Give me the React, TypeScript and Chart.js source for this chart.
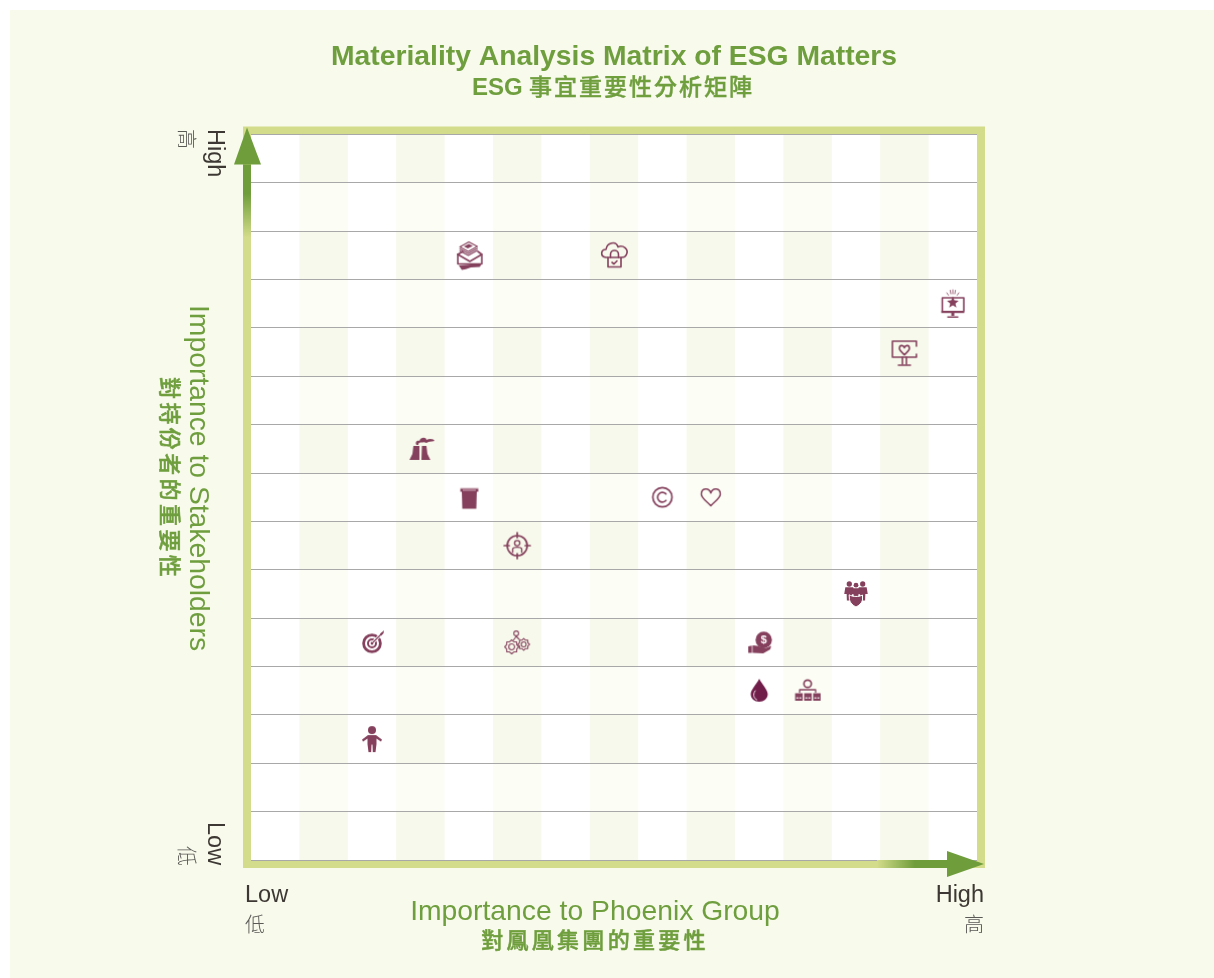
import React, { useEffect, useRef } from "react";
import { Chart, registerables } from "chart.js";

Chart.register(...registerables);

const titleText = "Materiality Analysis Matrix of ESG Matters";
const subtitleEn = "ESG";
const subtitleZh = "事宜重要性分析矩陣";
const xTitleEn = "Importance to Phoenix Group";
const xTitleZh = "對鳳凰集團的重要性";
const yTitleEn = "Importance to Stakeholders";
const yTitleZh = "對持份者的重要性";
const lowEn = "Low";
const lowZh = "低";
const highEn = "High";
const highZh = "高";

const matterIcons = ["mailBooks", "cloudLock", "starMonitor", "heartMonitor", "factory", "bin", "targetPerson", "copyright", "heart", "family", "dart", "gears", "coinHand", "drop", "org", "person"];
const phoenixImportance = [4.5, 7.5, 14.5, 13.5, 3.5, 4.5, 5.5, 8.5, 9.5, 12.5, 2.5, 5.5, 10.5, 10.5, 11.5, 2.5];
const stakeholderImportance = [12.5, 12.5, 11.5, 10.5, 8.5, 7.5, 6.5, 7.5, 7.5, 5.5, 4.5, 4.5, 4.5, 3.5, 3.5, 2.5];

const ICON = "#84405c";
const GREEN = "#6f9d3b";
const TEXT_GREEN = "#6f9e3e";
const FRAME = "#d3dc8a";
const PANEL = "#f8faec";
const BAND_A = "#f7f9ec";
const BAND_B = "#fcfdf5";
const DARK = "#3d3833";
const GREY = "#5b5956";
const LATIN = "'Liberation Sans', sans-serif";
const CJK = "'Noto Sans CJK TC', sans-serif";

type C = CanvasRenderingContext2D;
const poly = (c: C, pts: number[][], close = true) => {
  c.beginPath();
  pts.forEach((p, i) => (i ? c.lineTo(p[0], p[1]) : c.moveTo(p[0], p[1])));
  if (close) c.closePath();
};
const circ = (c: C, x: number, y: number, r: number) => {
  c.beginPath();
  c.arc(x, y, r, 0, Math.PI * 2);
};
const heartPath = (c: C, x: number, y: number, w: number, h: number) => {
  c.beginPath();
  c.moveTo(x, y + h * 0.5);
  c.bezierCurveTo(x - w * 0.2, y + h * 0.25, x - w * 0.5, y + h * 0.05, x - w * 0.5, y - h * 0.18);
  c.bezierCurveTo(x - w * 0.5, y - h * 0.55, x - w * 0.1, y - h * 0.6, x, y - h * 0.25);
  c.bezierCurveTo(x + w * 0.1, y - h * 0.6, x + w * 0.5, y - h * 0.55, x + w * 0.5, y - h * 0.18);
  c.bezierCurveTo(x + w * 0.5, y + h * 0.05, x + w * 0.2, y + h * 0.25, x, y + h * 0.5);
  c.closePath();
};
const gear = (c: C, x: number, y: number, r: number) => {
  c.beginPath();
  for (let i = 0; i < 16; i++) {
    const a = (i / 16) * Math.PI * 2;
    const R = i % 2 ? r * 0.78 : r;
    c.lineTo(x + Math.cos(a) * R, y + Math.sin(a) * R);
  }
  c.closePath();
  c.stroke();
  circ(c, x, y, r * 0.42);
  c.stroke();
};
const figure = (c: C, x: number, y: number, s: number) => {
  circ(c, x, y - 6 * s, 2.4 * s);
  c.fill();
  poly(c, [[x - 3.6 * s, y - 3 * s], [x + 3.6 * s, y - 3 * s], [x + 4.6 * s, y + 3 * s], [x + 2.4 * s, y + 3 * s], [x + 2.2 * s, y + 9 * s], [x - 2.2 * s, y + 9 * s], [x - 2.4 * s, y + 3 * s], [x - 4.6 * s, y + 3 * s]]);
  c.fill();
};

const drawers: Record<string, (c: C) => void> = {
  mailBooks(c) {
    poly(c, [[-11, -1], [-11, 8.5], [13, 8.5], [13, -1]], false);
    c.stroke();
    poly(c, [[-11, -1], [1, 6], [13, -1], [9, -4]], false);
    c.stroke();
    poly(c, [[-11, -1], [-6, -4]], false);
    c.stroke();
    c.lineWidth = 1.1;
    poly(c, [[-9, -8.5], [0, -13.5], [8.5, -9], [-0.5, -4]]);
    c.stroke();
    poly(c, [[-9, -6.5], [-0.5, -2], [8.5, -7]], false);
    c.stroke();
    poly(c, [[-9, -4.5], [-0.5, 0], [8.5, -5]], false);
    c.stroke();
    poly(c, [[-5, -9], [0, -11.5], [4, -9.5], [-1, -7]]);
    c.fill();
    poly(c, [[-10, 10], [-3, 9.5], [13, 8], [11, 11.5], [2, 12], [-3, 13.8], [-7, 14.5]]);
    c.fill();
  },
  cloudLock(c) {
    c.beginPath();
    c.moveTo(-6.5, 2);
    c.lineTo(-8, 2);
    c.bezierCurveTo(-14, 1.5, -13.5, -6, -8, -6);
    c.bezierCurveTo(-7, -13, 2, -15, 4, -8.5);
    c.bezierCurveTo(9, -11, 15, -6, 12.5, -1);
    c.bezierCurveTo(11.5, 1.5, 9.5, 2, 7.5, 2);
    c.stroke();
    poly(c, [[-6, 2], [7, 2], [7, 11.5], [-6, 11.5]]);
    c.stroke();
    c.beginPath();
    c.moveTo(-3.5, 2);
    c.lineTo(-3.5, -1);
    c.arc(0.5, -1, 4, Math.PI, 0);
    c.lineTo(4.5, 2);
    c.stroke();
    poly(c, [[-2, 7], [0, 8.5], [3, 5.5]], false);
    c.stroke();
  },
  starMonitor(c) {
    poly(c, [[-10.5, 7], [-10.5, -6], [11, -6], [11, 7]], false);
    c.stroke();
    c.fillRect(-11.5, 7, 23, 2.2);
    c.fillRect(-1.5, 9, 3, 3);
    c.fillRect(-5.5, 12.5, 11, 1.5);
    const star: number[][] = [];
    for (let i = 0; i < 10; i++) {
      const a = -Math.PI / 2 + (i * Math.PI) / 5;
      const r = i % 2 ? 2.7 : 6.2;
      star.push([Math.cos(a) * r, -1.2 + Math.sin(a) * r]);
    }
    poly(c, star);
    c.fill();
    c.lineWidth = 0.8;
    [[-6, -11, -4.4, -8.6], [-2.6, -13.5, -2, -10], [0, -14, 0, -10], [2.6, -13.5, 2, -10], [6, -11, 4.4, -8.6]].forEach((l) => {
      poly(c, [[l[0], l[1]], [l[2], l[3]]], false);
      c.stroke();
    });
  },
  heartMonitor(c) {
    c.beginPath();
    c.moveTo(12, 2);
    c.lineTo(12, 5);
    c.lineTo(-12, 5);
    c.lineTo(-12, -11);
    c.lineTo(12, -11);
    c.lineTo(12, -6);
    c.stroke();
    heartPath(c, 0, -2, 10, 9.5);
    c.stroke();
    poly(c, [[-2, 5], [-2, 12]], false);
    c.stroke();
    poly(c, [[2, 5], [2, 12]], false);
    c.stroke();
    poly(c, [[-6, 13], [6, 13]], false);
    c.stroke();
  },
  factory(c) {
    poly(c, [[-11, 11], [-8, 5], [-7, -3], [-1, -3], [-1, 11]]);
    c.fill();
    poly(c, [[1, 11], [1.5, -3], [6, -3], [7, 5], [10, 11]]);
    c.fill();
    c.beginPath();
    c.moveTo(-4, -4);
    c.bezierCurveTo(-6, -8, -2, -9, -1, -8);
    c.bezierCurveTo(0, -12, 6, -12, 6, -9);
    c.bezierCurveTo(9, -11, 14, -10, 14, -8);
    c.bezierCurveTo(11, -7, 9, -8, 6, -6);
    c.bezierCurveTo(3, -7.5, 2, -6, 0, -6.5);
    c.bezierCurveTo(-2, -6, -2, -5, -2, -4);
    c.closePath();
    c.fill();
  },
  bin(c) {
    poly(c, [[-7, -6], [8, -6], [7.5, 11.5], [-6.5, 11.5]]);
    c.fill();
    c.fillStyle = "#d8bcc6";
    c.fillRect(-8.5, -9.5, 18, 1);
    c.fillStyle = ICON;
    c.fillRect(-8.5, -8.5, 18, 3);
    c.fillStyle = "#c79bac";
    c.fillRect(-6, -7.6, 13, 1.2);
  },
  targetPerson(c) {
    circ(c, 0, 0, 10);
    c.lineWidth = 1.7;
    c.stroke();
    [[0, -13, 0, -8], [0, 8, 0, 13], [-13, 0, -8, 0], [8, 0, 13, 0]].forEach((l) => {
      poly(c, [[l[0], l[1]], [l[2], l[3]]], false);
      c.stroke();
    });
    c.lineWidth = 1.4;
    circ(c, 0, -2.5, 2.6);
    c.stroke();
    c.beginPath();
    c.moveTo(-4.5, 6.5);
    c.lineTo(-4.5, 3.5);
    c.bezierCurveTo(-4.5, 1, 4.5, 1, 4.5, 3.5);
    c.lineTo(4.5, 6.5);
    c.stroke();
  },
  copyright(c) {
    c.lineWidth = 1.7;
    circ(c, 0, 0, 9.6);
    c.stroke();
    c.beginPath();
    c.arc(0, 0, 4.8, 0.75, Math.PI * 2 - 0.75);
    c.stroke();
  },
  heart(c) {
    c.lineWidth = 1.5;
    heartPath(c, 0, 0, 19, 17);
    c.stroke();
  },
  family(c) {
    figure(c, -6.7, -3.4, 1.1);
    figure(c, 6.7, -3.4, 1.1);
    c.strokeStyle = "#fff";
    c.lineWidth = 1;
    figure(c, 0, -2.8, 1);
    c.beginPath();
    c.moveTo(-6.5, 1);
    c.bezierCurveTo(-3, 3, 3, 3, 6.5, 1);
    c.lineTo(6.5, 6);
    c.bezierCurveTo(6, 9, 3, 11.5, 0, 13);
    c.bezierCurveTo(-3, 11.5, -6, 9, -6.5, 6);
    c.closePath();
    c.fill();
    c.stroke();
  },
  dart(c) {
    c.lineWidth = 2.8;
    circ(c, 0, 1, 8.4);
    c.stroke();
    circ(c, 0, 1, 4);
    c.lineWidth = 2;
    c.stroke();
    circ(c, 0, 1, 1.4);
    c.fill();
    c.strokeStyle = "#fff";
    c.lineWidth = 3;
    poly(c, [[1.5, -0.5], [7, -6]], false);
    c.stroke();
    c.strokeStyle = ICON;
    c.lineWidth = 1.2;
    poly(c, [[0, 1], [10, -9]], false);
    c.stroke();
    poly(c, [[8, -8.5], [12, -12], [11.5, -9], [9, -6.5]]);
    c.fill();
  },
  gears(c) {
    c.lineWidth = 1.1;
    circ(c, -1, -9, 2.4);
    c.stroke();
    poly(c, [[-3.5, -2.5], [-1, -6], [2, -3]], false);
    c.stroke();
    gear(c, -5.5, 4.5, 7);
    gear(c, 6.5, 2, 5.8);
  },
  coinHand(c) {
    circ(c, 4.5, -2.5, 8.2);
    c.fill();
    c.fillStyle = "#fff";
    c.font = "bold 11px 'Liberation Sans'";
    c.textAlign = "center";
    c.textBaseline = "middle";
    c.fillText("$", 4.5, -2.2);
    c.fillStyle = ICON;
    poly(c, [[-11, 4], [-6, 3], [-2, 3.5], [3, 5], [7, 5.5], [12, 3.5], [11, 7], [4, 11], [-6, 10.5], [-11, 10.5]]);
    c.fill();
    c.strokeStyle = "#fff";
    c.lineWidth = 0.7;
    poly(c, [[-7, 3], [-7, 11]], false);
    c.stroke();
  },
  drop(c) {
    c.fillStyle = "#701d4a";
    c.beginPath();
    c.moveTo(0, -12);
    c.bezierCurveTo(3, -6, 8.5, -1, 8.5, 3.5);
    c.bezierCurveTo(8.5, 8, 4.5, 11, 0, 11);
    c.bezierCurveTo(-4.5, 11, -8.5, 8, -8.5, 3.5);
    c.bezierCurveTo(-8.5, -1, -3, -6, 0, -12);
    c.fill();
    c.strokeStyle = "#f1e4ea";
    c.lineWidth = 1;
    c.beginPath();
    c.moveTo(-4, 0);
    c.bezierCurveTo(-7, 4, -5, 8, -2.5, 9);
    c.stroke();
  },
  org(c) {
    circ(c, 0, -7, 3.7);
    c.lineWidth = 1.7;
    c.stroke();
    poly(c, [[-8, 1.5], [-8, -1], [8, -1], [8, 1.5]], false);
    c.lineWidth = 1.3;
    c.stroke();
    [-12.5, -3.5, 5.5].forEach((x) => {
      c.fillStyle = ICON;
      c.fillRect(x, 2.5, 7.5, 7.5);
      c.fillStyle = "#fff";
      c.fillRect(x + 1.2, 6.6, 2, 1.2);
      c.fillRect(x + 4.2, 6.6, 2, 1.2);
    });
  },
  person(c) {
    circ(c, 0, -9, 4);
    c.fill();
    poly(c, [[-4, -4], [4, -4], [10, 0.5], [9, 2.5], [4.5, -0.5], [4.5, 5], [3.5, 13], [0.8, 13], [0.5, 5.5], [-0.5, 5.5], [-0.8, 13], [-3.5, 13], [-4.5, 5], [-4.5, -0.5], [-9, 2.5], [-10, 0.5]]);
    c.fill();
  },
};

const makeIcon = (name: string) => {
  const cv = document.createElement("canvas");
  cv.width = 48;
  cv.height = 48;
  const c = cv.getContext("2d") as C;
  c.translate(24, 24);
  c.fillStyle = ICON;
  c.strokeStyle = ICON;
  c.lineWidth = 1.6;
  c.lineCap = "round";
  c.lineJoin = "round";
  drawers[name](c);
  return cv;
};

type TextOpts = { font: string; color: string; x: number; y: number; rot?: number; align?: CanvasTextAlign; base?: CanvasTextBaseline; spacing?: number; embolden?: number };
const put = (c: C, s: string, o: TextOpts) => {
  c.save();
  c.translate(o.x, o.y);
  if (o.rot) c.rotate(o.rot);
  c.font = o.font;
  c.fillStyle = o.color;
  c.textAlign = o.align || "left";
  c.textBaseline = o.base || "alphabetic";
  (c as any).letterSpacing = (o.spacing || 0) + "px";
  c.fillText(s, 0, 0);
  if (o.embolden) {
    c.strokeStyle = o.color;
    c.lineWidth = o.embolden;
    c.strokeText(s, 0, 0);
  }
  c.restore();
};

const backdrop = {
  id: "backdrop",
  beforeDraw(chart: any) {
    const c: C = chart.ctx;
    const { width, height, scales } = chart;
    const xs = scales.x;
    const ys = scales.y;
    const L = xs.getPixelForValue(0);
    const R = xs.getPixelForValue(15);
    const T = ys.getPixelForValue(15);
    const B = ys.getPixelForValue(0);
    c.save();
    c.fillStyle = "#ffffff";
    c.fillRect(0, 0, width, height);
    c.fillStyle = PANEL;
    c.fillRect(10, 10, width - 10, height - 10);
    c.fillStyle = FRAME;
    c.fillRect(L - 8, T - 8, R - L + 16, B - T + 16);
    c.fillStyle = "#ffffff";
    c.fillRect(L, T, R - L, B - T);
    for (let col = 1; col < 15; col += 2) {
      for (let row = 0; row < 15; row++) {
        c.fillStyle = row % 2 === 0 ? BAND_A : BAND_B;
        const x0 = xs.getPixelForValue(col);
        const x1 = xs.getPixelForValue(col + 1);
        const y0 = ys.getPixelForValue(15 - row);
        const y1 = ys.getPixelForValue(14 - row);
        c.fillRect(x0, y0, x1 - x0, y1 - y0);
      }
    }
    c.restore();
  },
  afterDatasetsDraw(chart: any) {
    const c: C = chart.ctx;
    const xs = chart.scales.x;
    const ys = chart.scales.y;
    const L = xs.getPixelForValue(0);
    const R = xs.getPixelForValue(15);
    const T = ys.getPixelForValue(15);
    const B = ys.getPixelForValue(0);
    c.save();
    const gy = c.createLinearGradient(0, T + 103, 0, T + 59);
    gy.addColorStop(0, FRAME);
    gy.addColorStop(1, GREEN);
    c.fillStyle = gy;
    c.fillRect(L - 8, T + 30, 8, 73);
    c.fillStyle = GREEN;
    poly(c, [[L - 4, T - 7], [L + 10, T + 30], [L - 17, T + 30]]);
    c.fill();
    const gx = c.createLinearGradient(R - 100, 0, R - 62, 0);
    gx.addColorStop(0, FRAME);
    gx.addColorStop(1, GREEN);
    c.fillStyle = gx;
    c.fillRect(R - 100, B, 72, 8);
    c.fillStyle = GREEN;
    poly(c, [[R + 7, B + 4], [R - 30, B + 17], [R - 30, B - 9]]);
    c.fill();

    const q = Math.PI / 2;
    put(c, subtitleEn, { font: `bold 24px ${LATIN}`, color: TEXT_GREEN, x: 472, y: 95 });
    put(c, subtitleZh, { font: `500 23px ${CJK}`, color: TEXT_GREEN, x: 529, y: 95, spacing: 2, embolden: 0.4 });
    put(c, highEn, { font: `23.5px ${LATIN}`, color: DARK, x: 208, y: 129, rot: q });
    put(c, highZh, { font: `300 20px ${CJK}`, color: GREY, x: 187, y: 129, rot: q, base: "middle" });
    put(c, lowEn, { font: `23.5px ${LATIN}`, color: DARK, x: 208, y: 822, rot: q });
    put(c, lowZh, { font: `300 20px ${CJK}`, color: GREY, x: 187, y: 866, rot: q, base: "middle", align: "right" });
    put(c, lowEn, { font: `23.5px ${LATIN}`, color: DARK, x: 245, y: 902 });
    put(c, lowZh, { font: `300 20px ${CJK}`, color: GREY, x: 245, y: 924, base: "middle" });
    put(c, highEn, { font: `23.5px ${LATIN}`, color: DARK, x: 984, y: 902, align: "right" });
    put(c, highZh, { font: `300 20px ${CJK}`, color: GREY, x: 984, y: 924, base: "middle", align: "right" });
    put(c, yTitleEn, { font: `28.3px ${LATIN}`, color: TEXT_GREEN, x: 190, y: 305, rot: q });
    put(c, yTitleZh, { font: `500 22px ${CJK}`, color: TEXT_GREEN, x: 170, y: 377, rot: q, base: "middle", spacing: 3.4, embolden: 0.5 });
    put(c, xTitleEn, { font: `28.3px ${LATIN}`, color: TEXT_GREEN, x: 595, y: 920, align: "center" });
    put(c, xTitleZh, { font: `500 22px ${CJK}`, color: TEXT_GREEN, x: 595, y: 940, align: "center", base: "middle", spacing: 3.3, embolden: 0.5 });
    c.restore();
  },
};

export default function App() {
  const ref = useRef<HTMLCanvasElement | null>(null);
  useEffect(() => {
    if (!ref.current) return;
    const chart = new Chart(ref.current, {
      type: "scatter",
      data: {
        datasets: [
          {
            label: "ESG matters",
            data: phoenixImportance.map((x, i) => ({ x, y: stakeholderImportance[i] })),
            pointStyle: matterIcons.map(makeIcon) as any,
            pointRadius: 14,
            showLine: false,
          },
        ],
      },
      options: {
        animation: false,
        responsive: false,
        devicePixelRatio: 1,
        layout: { padding: { left: 251, right: 237, top: 0, bottom: 118 } },
        scales: {
          x: { type: "linear", min: 0, max: 15, display: true, grid: { display: false, drawTicks: false, tickLength: 0 }, border: { display: false }, ticks: { display: false, stepSize: 1, padding: 0 } },
          y: { type: "linear", min: 0, max: 15, display: true, grid: { color: "#a8a8a8", lineWidth: 1, drawTicks: false }, border: { display: false }, ticks: { display: false, stepSize: 1 } },
        },
        plugins: {
          legend: { display: false },
          tooltip: { enabled: false },
          title: { display: true, text: titleText, color: TEXT_GREEN, font: { family: LATIN, size: 28.3, weight: "bold", lineHeight: 1 }, padding: { top: 43, bottom: 63.2 } },
          subtitle: { display: false },
        },
      },
      plugins: [backdrop],
    } as any);
    return () => chart.destroy();
  }, []);
  return <canvas ref={ref} width={1214} height={978} style={{ position: "absolute", left: 0, top: 0, display: "block" }} />;
}
